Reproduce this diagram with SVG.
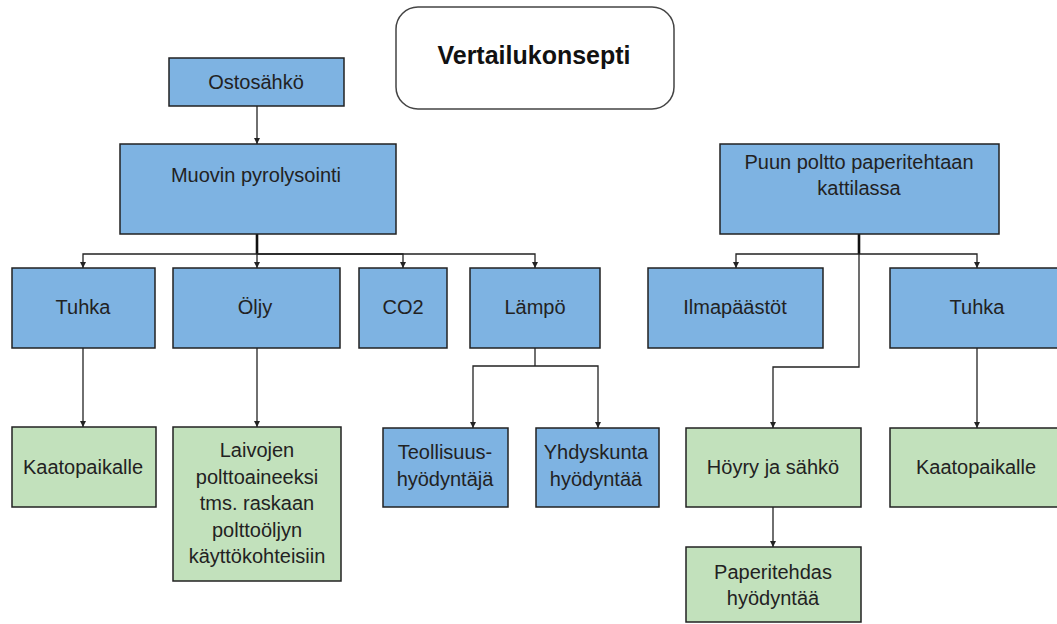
<svg xmlns="http://www.w3.org/2000/svg" width="1057" height="624" viewBox="0 0 1057 624">
  <defs>
    <marker id="arrow" markerUnits="userSpaceOnUse" markerWidth="7" markerHeight="7" refX="6" refY="3" orient="auto">
      <path d="M0,0 L6,3 L0,6 z" fill="#222"/>
    </marker>
    <style>
      .box { stroke: #222; stroke-width: 1.5; }
      .blue { fill: #7eb3e2; }
      .green { fill: #c2e1bc; }
      .title { fill: #ffffff; stroke: #444; stroke-width: 1.5; }
      text { font-family: "Liberation Sans", Arial, sans-serif; font-size: 20px; fill: #222; text-anchor: middle; }
      .bold { font-weight: bold; font-size: 25px; fill: #111; }
      .conn { fill: none; stroke: #222; stroke-width: 1.3; }
      .stub { fill: none; stroke: #111; stroke-width: 2.6; }
      .arr { marker-end: url(#arrow); }
    </style>
  </defs>
  <rect width="1057" height="624" fill="#ffffff"/>

  <!-- Connectors -->
  <g id="connectors">
    <path class="conn arr" d="M257,106 V144"/>
    <path class="stub" d="M257,234 V254"/>
    <path class="conn arr" d="M257,254 H83 V268"/>
    <path class="conn arr" d="M257,254 V268"/>
    <path class="conn arr" d="M257,254 H403 V268"/>
    <path class="conn arr" d="M257,254 H535 V268"/>
    <path class="conn arr" d="M83,348 V427"/>
    <path class="conn arr" d="M257,348 V427"/>
    <path class="conn" d="M535,348 V366"/>
    <path class="conn arr" d="M535,366 H473 V428"/>
    <path class="conn arr" d="M535,366 H598 V428"/>
    <path class="stub" d="M859,234 V254"/>
    <path class="conn arr" d="M859,254 H736 V268"/>
    <path class="conn arr" d="M859,254 H977 V268"/>
    <path class="conn arr" d="M859,254 V367 H773 V428"/>
    <path class="conn arr" d="M977,348 V428"/>
    <path class="conn arr" d="M773,507 V547"/>
  </g>

  <!-- Title -->
  <g id="title">
    <rect class="title" x="396" y="7" width="278" height="102" rx="22" ry="22"/>
    <text class="bold" x="534" y="64">Vertailukonsepti</text>
  </g>

  <!-- Left branch: plastic pyrolysis -->
  <g id="ostosahko">
    <rect class="box blue" x="169" y="58" width="175" height="48"/>
    <text x="256" y="89">Ostosähkö</text>
  </g>
  <g id="muovin-pyrolysointi">
    <rect class="box blue" x="120" y="144" width="276" height="90"/>
    <text x="256" y="182">Muovin pyrolysointi</text>
  </g>
  <g id="tuhka-left">
    <rect class="box blue" x="12" y="268" width="143" height="80"/>
    <text x="83" y="314">Tuhka</text>
  </g>
  <g id="oljy">
    <rect class="box blue" x="173" y="268" width="167" height="80"/>
    <text x="255" y="314">Öljy</text>
  </g>
  <g id="co2">
    <rect class="box blue" x="359" y="268" width="88" height="80"/>
    <text x="403" y="314">CO2</text>
  </g>
  <g id="lampo">
    <rect class="box blue" x="470" y="268" width="130" height="80"/>
    <text x="535" y="314">Lämpö</text>
  </g>
  <g id="kaatopaikalle-left">
    <rect class="box green" x="12" y="427" width="144" height="80"/>
    <text x="83" y="474">Kaatopaikalle</text>
  </g>
  <g id="laivojen">
    <rect class="box green" x="173" y="427" width="168" height="154"/>
    <text x="257" y="457">Laivojen</text>
    <text x="257" y="483.5">polttoaineeksi</text>
    <text x="257" y="510">tms. raskaan</text>
    <text x="257" y="536.5">polttoöljyn</text>
    <text x="257" y="563">käyttökohteisiin</text>
  </g>
  <g id="teollisuus">
    <rect class="box blue" x="383" y="428" width="125" height="79"/>
    <text x="445" y="459">Teollisuus-</text>
    <text x="445" y="485.5">hyödyntäjä</text>
  </g>
  <g id="yhdyskunta">
    <rect class="box blue" x="536" y="428" width="123" height="79"/>
    <text x="596" y="459">Yhdyskunta</text>
    <text x="596" y="485.5">hyödyntää</text>
  </g>

  <!-- Right branch: wood burning in the mill boiler -->
  <g id="puun-poltto">
    <rect class="box blue" x="720" y="144" width="279" height="90"/>
    <text x="859" y="169">Puun poltto paperitehtaan</text>
    <text x="859" y="195">kattilassa</text>
  </g>
  <g id="ilmapaastot">
    <rect class="box blue" x="648" y="268" width="175" height="80"/>
    <text x="735" y="314">Ilmapäästöt</text>
  </g>
  <g id="tuhka-right">
    <rect class="box blue" x="890" y="268" width="174" height="80"/>
    <text x="977" y="314">Tuhka</text>
  </g>
  <g id="hoyry">
    <rect class="box green" x="686" y="428" width="175" height="79"/>
    <text x="773" y="474">Höyry ja sähkö</text>
  </g>
  <g id="kaatopaikalle-right">
    <rect class="box green" x="890" y="428" width="174" height="79"/>
    <text x="976" y="474">Kaatopaikalle</text>
  </g>
  <g id="paperitehdas">
    <rect class="box green" x="686" y="547" width="175" height="75"/>
    <text x="773" y="579">Paperitehdas</text>
    <text x="773" y="605">hyödyntää</text>
  </g>
</svg>
